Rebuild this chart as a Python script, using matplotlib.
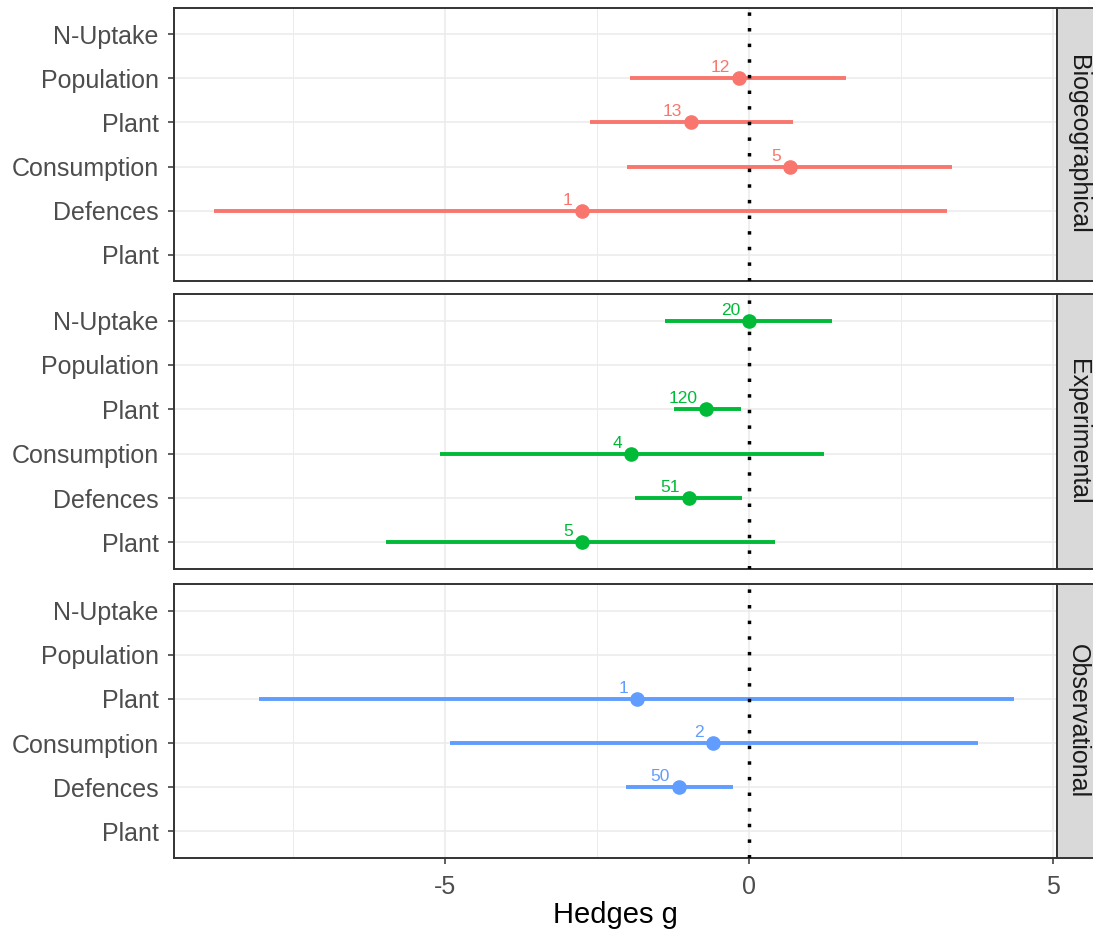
import numpy as np
import matplotlib
matplotlib.use("Agg")
import matplotlib.pyplot as plt
from matplotlib.patches import Rectangle

plt.rcParams['font.family'] = ['Liberation Sans', 'DejaVu Sans']
plt.rcParams['axes.unicode_minus'] = False

# rows from top to bottom
row_labels = ["N-Uptake", "Population", "Plant", "Consumption", "Defences", "Plant"]
designs = ["Biogeographical", "Experimental", "Observational"]
colors = ["#F8766D", "#00BA38", "#619CFF"]

nan = np.nan
# Biogeographical
bio_est = [nan, -0.17, -0.96, 0.68, -2.75, nan]
bio_lo = [nan, -1.96, -2.62, -2.00, -8.80, nan]
bio_hi = [nan, 1.60, 0.72, 3.34, 3.25, nan]
bio_n = [None, 12, 13, 5, 1, None]
# Experimental
exp_est = [0.00, nan, -0.70, -1.94, -0.99, -2.75]
exp_lo = [-1.38, nan, -1.23, -5.08, -1.87, -5.97]
exp_hi = [1.37, nan, -0.14, 1.23, -0.11, 0.42]
exp_n = [20, None, 120, 4, 51, 5]
# Observational
obs_est = [nan, nan, -1.84, -0.59, -1.15, nan]
obs_lo = [nan, nan, -8.05, -4.92, -2.03, nan]
obs_hi = [nan, nan, 4.36, 3.76, -0.27, nan]
obs_n = [None, None, 1, 2, 50, None]

panels = [
    (bio_est, bio_lo, bio_hi, bio_n),
    (exp_est, exp_lo, exp_hi, exp_n),
    (obs_est, obs_lo, obs_hi, obs_n),
]

W, H = 1093, 933
fig = plt.figure(figsize=(W / 100, H / 100), dpi=100)

left, right = 174 / W, 1057 / W
tops = [8, 294, 584]
bottoms = [281, 569, 858]

ypos = np.arange(len(row_labels), 0, -1)  # 6..1
grey20 = "#333333"
grey30 = "#4D4D4D"
gridc = "#EBEBEB"

for i, (est, lo, hi, n) in enumerate(panels):
    b = 1 - bottoms[i] / H
    t = 1 - tops[i] / H
    ax = fig.add_axes([left, b, right - left, t - b])
    ax.set_xlim(-9.45, 5.06)
    ax.set_ylim(0.4, 6.6)
    ax.set_xticks([-5, 0, 5])
    ax.set_xticks([-7.5, -2.5, 2.5], minor=True)
    ax.set_yticks(ypos)
    ax.set_yticklabels(row_labels)
    ax.grid(True, which='major', color=gridc, lw=1.1, zorder=0)
    ax.grid(True, which='minor', axis='x', color=gridc, lw=0.7, zorder=0)
    ax.set_axisbelow(True)
    ax.tick_params(axis='y', length=4, width=1.1, color=grey20, labelsize=18,
                   labelcolor=grey30, pad=7)
    ax.tick_params(axis='x', which='major', length=4.5, width=1.1, color=grey20,
                   labelsize=18, labelcolor=grey30, pad=8)
    ax.tick_params(axis='x', which='minor', length=0)
    for s in ax.spines.values():
        s.set_color(grey20)
        s.set_linewidth(1.4)
    if i < 2:
        ax.tick_params(axis='x', labelbottom=False, length=0)

    ax.axvline(0, color='black', lw=2.5, linestyle=(0, (1, 3.5)),
               dash_capstyle='butt', zorder=4)

    c = colors[i]
    for y, e, l, h, k in zip(ypos, est, lo, hi, n):
        if np.isnan(e):
            continue
        ax.plot([l, h], [y, y], color=c, lw=2.8, solid_capstyle='butt', zorder=3)
        ax.plot([e], [y], marker='o', ms=9.5, color=c, mec=c, zorder=5)
        ax.annotate(str(k), (e, y), xytext=(-9, 6), textcoords='offset pixels',
                    ha='right', va='baseline', fontsize=12.5, color=c, zorder=6)

    # facet strip on the right
    fig.patches.append(Rectangle((right, b), 60 / W, t - b, transform=fig.transFigure,
                                 facecolor="#D9D9D9", edgecolor=grey20, lw=1.4,
                                 zorder=0))
    fig.text(1078 / W, (b + t) / 2, designs[i], rotation=-90, ha='center',
             va='center', fontsize=18, color="#1A1A1A")

# x axis title
fig.text((left + right) / 2, 1 - 915 / H, "Hedges g", ha='center', va='center',
         fontsize=21, color='black')

fig.savefig("out.png", dpi=100)
